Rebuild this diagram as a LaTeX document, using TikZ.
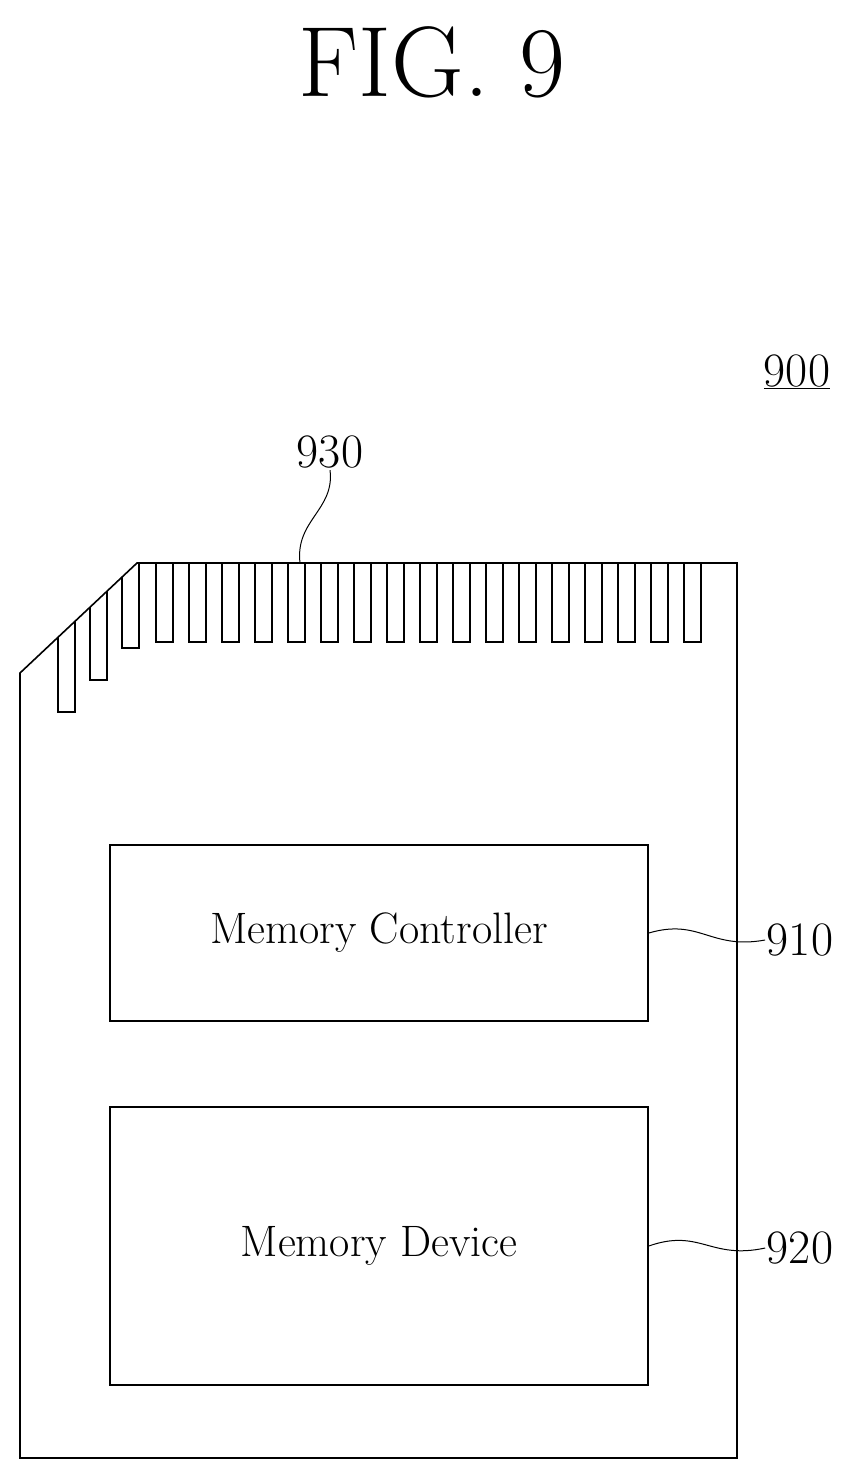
\documentclass[tikz,border=0pt]{standalone}
\usetikzlibrary{positioning,calc}

\begin{document}
\begin{tikzpicture}[x=1pt, y=-1pt, line width=1.6pt,
    blk/.style={draw, minimum width=538pt, inner sep=0pt},
    lbl/.style={font=\fontsize{44}{44}\selectfont},
    ref/.style={font=\fontsize{48}{48}\selectfont, inner sep=1pt}]
    \useasboundingbox (0,0) rectangle (858,1480);
    % Title
    \node (fig) at (432,62) {\fontsize{100}{100}\selectfont FIG. 9};
    \node[ref] (n900) at (797,372) {\underline{900}};

    % Card outline
    \draw (137,563) -- (737,563) -- (737,1458) -- (20,1458) -- (20,673) -- cycle;

    % Slanted contacts (follow the cut corner)
    \foreach \xa/\yb in {58/712, 90/680, 122/648} {
        \pgfmathsetmacro{\xb}{\xa+17}
        \pgfmathsetmacro{\ya}{563+(137-\xa)*110/117}
        \pgfmathsetmacro{\yc}{max(563,563+(137-\xb)*110/117)}
        \draw (\xa,\ya) -- (\xa,\yb) -- (\xb,\yb) -- (\xb,\yc);
    }
    % Straight contacts
    \foreach \i in {0,...,16} {
        \pgfmathsetmacro{\xa}{156+33*\i}
        \draw (\xa,563) -- (\xa,642) -- (\xa+17,642) -- (\xa+17,563);
    }

    % Blocks
    \node[blk, minimum height=176pt] (ctrl) at (379,933) {};
    \node[lbl] at (ctrl) {Memory Controller};
    \node[blk, minimum height=278pt] (dev) at (379,1246) {};
    \node[lbl] at (dev) {Memory Device};

    % Reference labels and leaders
    \node[ref] (n910) at (800,940) {910};
    \node[ref] (n920) at (800,1248) {920};
    \node[ref] (n930) at (330,452) {930};
    \draw[line width=1pt] (ctrl.east) .. controls (700,918) and (710,950) .. (n910.west);
    \draw[line width=1pt] (dev.east) .. controls (700,1228) and (710,1260) .. (n920.west);
    \draw[line width=1pt] (n930.south) .. controls (335,510) and (295,520) .. (300,563);
\end{tikzpicture}
\end{document}
